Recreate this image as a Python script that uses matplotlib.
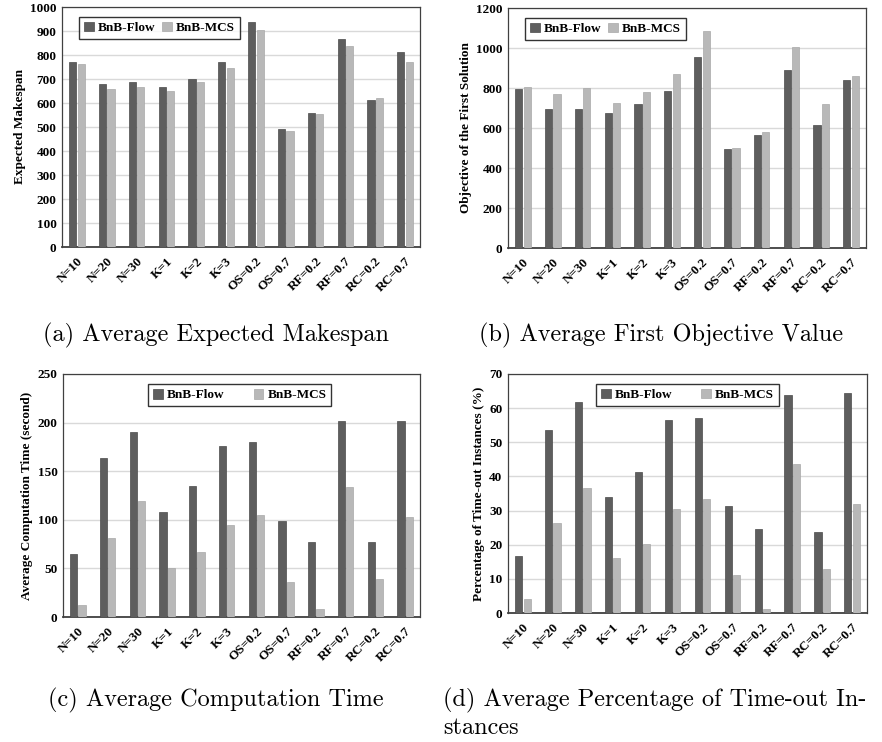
import matplotlib
matplotlib.use("Agg")
import matplotlib.pyplot as plt
import numpy as np

categories = ["N=10", "N=20", "N=30", "K=1", "K=2", "K=3",
              "OS=0.2", "OS=0.7", "RF=0.2", "RF=0.7", "RC=0.2", "RC=0.7"]
series_names = ["BnB-Flow", "BnB-MCS"]

makespan_flow = [772, 680, 688, 666, 702, 772, 936, 491, 560, 866, 613, 814]
makespan_mcs = [762, 659, 666, 651, 688, 747, 903, 484, 555, 836, 620, 769]

firstobj_flow = [797, 693, 695, 676, 720, 787, 956, 497, 567, 889, 617, 842]
firstobj_mcs = [805, 768, 802, 725, 779, 872, 1087, 502, 581, 1007, 720, 862]

time_flow = [64.5, 164, 190, 108, 135, 176, 180, 99, 77, 202, 77, 202]
time_mcs = [12.3, 81, 119, 50, 67, 95, 105, 36, 8.6, 134, 39, 103]

timeout_flow = [16.7, 53.6, 61.9, 34.1, 41.3, 56.5, 57.0, 31.3, 24.5, 63.8, 23.7, 64.3]
timeout_mcs = [4.1, 26.3, 36.7, 16.2, 20.3, 30.5, 33.3, 11.2, 1.1, 43.6, 12.8, 31.8]

ylabels = ["Expected Makespan", "Objective of the First Solution",
           "Average Computation Time (second)", "Percentage of Time-out Instances (%)"]
yticks = [np.arange(0, 1001, 100), np.arange(0, 1201, 200),
          np.arange(0, 251, 50), np.arange(0, 71, 10)]
captions = ["(a) Average Expected Makespan", "(b) Average First Objective Value",
            "(c) Average Computation Time", "(d) Average Percentage of Time-out In-\nstances"]

data = [(makespan_flow, makespan_mcs), (firstobj_flow, firstobj_mcs),
        (time_flow, time_mcs), (timeout_flow, timeout_mcs)]

W, H = 882, 742
fig = plt.figure(figsize=(W / 100, H / 100), dpi=100)

# axes boxes in pixels: left, top, right, bottom
boxes = [(62, 7, 420, 247), (508, 8, 866, 248), (63, 374, 420, 617), (508, 374, 867, 613)]
legend_cfg = [
    dict(loc="upper left", bbox=(0.03, 0.985), colsp=0.5),
    dict(loc="upper left", bbox=(0.03, 0.985), colsp=0.5),
    dict(loc="upper center", bbox=(0.495, 0.985), colsp=2.2),
    dict(loc="upper center", bbox=(0.5, 0.985), colsp=2.2),
]

dark = "#5e5e5e"
light = "#b8b8b8"
font = "Liberation Serif"

for i, (box, (fl, mc)) in enumerate(zip(boxes, data)):
    l, t, r, b = box
    ax = fig.add_axes([l / W, 1 - b / H, (r - l) / W, (b - t) / H])
    x = np.arange(len(categories))
    bw = 0.24
    ax.bar(x - bw / 2 - 0.02, fl, width=bw, color=dark, edgecolor="#4a4a4a", linewidth=0.5,
           label=series_names[0], zorder=3)
    ax.bar(x + bw / 2 + 0.02, mc, width=bw, color=light, edgecolor="#a8a8a8", linewidth=0.5,
           label=series_names[1], zorder=3)
    ax.set_xlim(-0.5, len(categories) - 0.5)
    yt = yticks[i]
    ax.set_ylim(0, yt[-1])
    ax.set_yticks(yt)
    ax.set_yticklabels([str(v) for v in yt], fontfamily=font, fontweight="bold", fontsize=9.5)
    ax.yaxis.grid(True, color="#d9d9d9", linewidth=1.0, zorder=0)
    ax.set_axisbelow(True)
    ax.set_xticks(x)
    ax.set_xticklabels(categories, rotation=45, ha="right", va="top", rotation_mode="anchor",
                       fontfamily=font, fontweight="bold", fontsize=9.5)
    ax.tick_params(axis="both", length=0, pad=4)
    ax.tick_params(axis="x", pad=6)
    for s in ax.spines.values():
        s.set_color("#404040")
        s.set_linewidth(0.9)
    ax.spines["bottom"].set_linewidth(1.3)
    ax.set_ylabel(ylabels[i], fontfamily=font, fontweight="bold", fontsize=9.5, labelpad=3)
    cfg = legend_cfg[i]
    leg = ax.legend(loc=cfg["loc"], bbox_to_anchor=cfg["bbox"], ncol=2, frameon=True,
                    fancybox=False, edgecolor="black", handlelength=0.75, handleheight=0.75,
                    handletextpad=0.3, columnspacing=cfg["colsp"], borderpad=0.35,
                    prop={"family": font, "weight": "bold", "size": 9.5})
    leg.get_frame().set_linewidth(1.0)

cap_font = dict(fontfamily="cmr10", fontsize=17.5)
fig.text(216 / W, 1 - 335 / H, captions[0], ha="center", va="center", **cap_font)
fig.text(661 / W, 1 - 335 / H, captions[1], ha="center", va="center", **cap_font)
fig.text(216 / W, 1 - 700 / H, captions[2], ha="center", va="center", **cap_font)
fig.text(443 / W, 1 - 688 / H, captions[3], ha="left", va="top", linespacing=1.2, **cap_font)

fig.savefig("out.png", dpi=100)
